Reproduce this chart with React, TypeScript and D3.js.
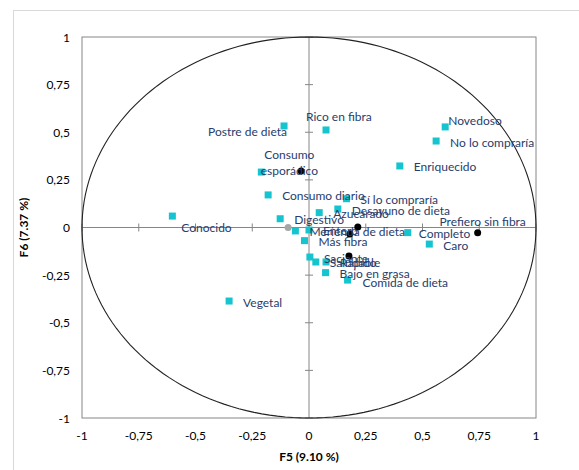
import React from 'react';
import * as d3 from 'd3';

const axisTicks = [-1, -0.75, -0.5, -0.25, 0, 0.25, 0.5, 0.75, 1];

// active variables (cyan squares)
const activeNames = [
  'Postre de dieta', 'Rico en fibra', 'Novedoso', 'No lo compraría', 'Enriquecido',
  'Consumo esporádico', 'Consumo diario', 'Sí lo compraría', 'Desayuno de dieta', 'Azucarado',
  'Digestivo', 'Conocido', 'Merienda de dieta', 'Entero', 'Más fibra', 'Saciante',
  'Saludable', 'Rápido', 'Bajo en grasa', 'Comida de dieta', 'Completo', 'Caro', 'Vegetal'
];
const activeF5 = [-0.11, 0.075, 0.6, 0.56, 0.4, -0.21, -0.18, 0.165, 0.127, 0.045, -0.127, -0.602, -0.06, 0, -0.02, 0.004, 0.03, 0.075, 0.073, 0.17, 0.435, 0.53, -0.352];
const activeF6 = [0.533, 0.512, 0.528, 0.454, 0.323, 0.291, 0.171, 0.151, 0.097, 0.078, 0.046, 0.06, -0.018, -0.013, -0.069, -0.155, -0.181, -0.181, -0.237, -0.276, -0.027, -0.087, -0.386];

// supplementary variables (black dots)
const suppNames = ['', '', '', '', 'Prefiero sin fibra'];
const suppF5 = [-0.035, 0.215, 0.18, 0.176, 0.743];
const suppF6 = [0.297, 0.003, -0.034, -0.15, -0.027];

// gray point
const grayF5 = [-0.092];
const grayF6 = [0];

// label placement (moved by hand in the original)
const labelLayout: Record<string, { dx: number; dy: number; anchor?: string }> = {
  'Postre de dieta': { dx: 3, dy: 6, anchor: 'end' },
  'Rico en fibra': { dx: -20, dy: -13 },
  'Novedoso': { dx: 3, dy: -6 },
  'Consumo esporádico': { dx: 28, dy: -18, anchor: 'middle' },
  'Conocido': { dx: 9, dy: 11 },
  'Prefiero sin fibra': { dx: 5, dy: -11, anchor: 'middle' },
  'Completo': { dx: 11, dy: 1 },
  'Comida de dieta': { dx: 15, dy: 2 }
};

const W = 579;
const H = 470;
const font = 'Lato, "Open Sans", sans-serif';
const labelColor = '#283d6c';

export default function App() {
  const x = d3.scaleLinear().domain([-1, 1]).range([82, 536]);
  const y = d3.scaleLinear().domain([-1, 1]).range([418, 37]);

  const circle = d3
    .line<number>()
    .x((a) => x(Math.cos(a)))
    .y((a) => y(Math.sin(a)))(d3.range(0, 2 * Math.PI + 0.01, Math.PI / 90));

  const renderLabel = (name: string, px: number, py: number, key: string) => {
    if (!name) return null;
    const l = labelLayout[name] || { dx: 14, dy: 1 };
    const anchor = l.anchor || 'start';
    if (name === 'Consumo esporádico') {
      return (
        <text key={key} x={px + l.dx} y={py + l.dy} textAnchor={anchor} dominantBaseline="central" fill={labelColor}>
          <tspan x={px + l.dx}>Consumo</tspan>
          <tspan x={px + l.dx} dy={16}>esporádico</tspan>
        </text>
      );
    }
    return (
      <text key={key} x={px + l.dx} y={py + l.dy} textAnchor={anchor} dominantBaseline="central" fill={labelColor}>
        {name}
      </text>
    );
  };

  return (
    <svg
      width={W}
      height={H}
      style={{ position: 'absolute', left: 0, top: 0, background: '#fff' }}
      fontFamily={font}
      fontSize={12}
    >
      {/* chart area border */}
      <rect x={13.5} y={10.5} width={W} height={H} fill="none" stroke="#d9d9d9" />
      {/* plot area */}
      <rect x={x(-1)} y={y(1)} width={x(1) - x(-1)} height={y(-1) - y(1)} fill="none" stroke="#868686" />

      {/* zero axes */}
      <line x1={x(-1)} x2={x(1)} y1={y(0)} y2={y(0)} stroke="#868686" />
      <line x1={x(0)} x2={x(0)} y1={y(1)} y2={y(-1)} stroke="#868686" />
      {axisTicks.map((t) => (
        <g key={'t' + t}>
          <line x1={x(t)} x2={x(t)} y1={y(0) - 4} y2={y(0) + 4} stroke="#868686" />
          <line x1={x(0) - 4} x2={x(0) + 4} y1={y(t)} y2={y(t)} stroke="#868686" />
        </g>
      ))}

      {/* tick labels */}
      {axisTicks.map((t) => (
        <text key={'xl' + t} x={x(t)} y={435} textAnchor="middle" dominantBaseline="central" fill="#000">
          {String(t).replace('.', ',')}
        </text>
      ))}
      {axisTicks.map((t) => (
        <text key={'yl' + t} x={70} y={y(t)} textAnchor="end" dominantBaseline="central" fill="#000">
          {String(t).replace('.', ',')}
        </text>
      ))}

      {/* axis titles */}
      <text x={x(0)} y={456} textAnchor="middle" dominantBaseline="central" fontWeight="bold" fill="#000">
        F5 (9.10 %)
      </text>
      <text
        transform={`translate(23,${y(0)}) rotate(-90)`}
        textAnchor="middle"
        dominantBaseline="central"
        fontWeight="bold"
        fill="#000"
      >
        F6 (7.37 %)
      </text>

      {/* correlation circle */}
      <path d={circle || ''} fill="none" stroke="#222" strokeWidth={1.1} />

      {/* points */}
      {grayF5.map((v, i) => (
        <circle key={'g' + i} cx={x(v)} cy={y(grayF6[i])} r={3.5} fill="#a6a6a6" />
      ))}
      {activeNames.map((n, i) => (
        <rect key={'a' + i} x={x(activeF5[i]) - 3.5} y={y(activeF6[i]) - 3.5} width={7} height={7} fill="#14c4ce" />
      ))}
      {suppNames.map((n, i) => (
        <circle key={'s' + i} cx={x(suppF5[i])} cy={y(suppF6[i])} r={3.5} fill="#000" />
      ))}

      {/* labels */}
      {activeNames.map((n, i) => renderLabel(n, x(activeF5[i]), y(activeF6[i]), 'al' + i))}
      {suppNames.map((n, i) => renderLabel(n, x(suppF5[i]), y(suppF6[i]), 'sl' + i))}
    </svg>
  );
}
